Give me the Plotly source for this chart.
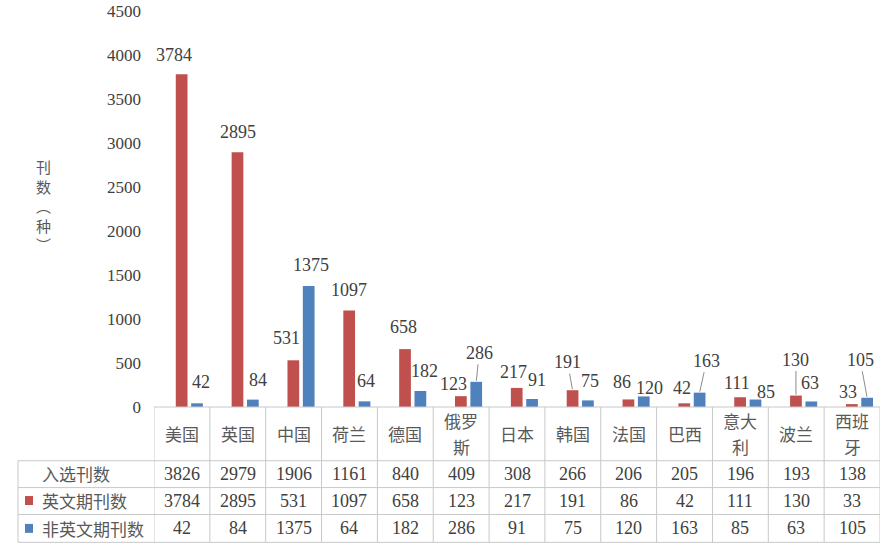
import plotly.graph_objects as go

# data
countries = ['美国', '英国', '中国', '荷兰', '德国', '俄罗斯', '日本',
             '韩国', '法国', '巴西', '意大利', '波兰', '西班牙']
header_labels = ['美国', '英国', '中国', '荷兰', '德国', '俄罗|斯', '日本',
                 '韩国', '法国', '巴西', '意大|利', '波兰', '西班|牙']
total = [3826, 2979, 1906, 1161, 840, 409, 308, 266, 206, 205, 196, 193, 138]
english = [3784, 2895, 531, 1097, 658, 123, 217, 191, 86, 42, 111, 130, 33]
non_english = [42, 84, 1375, 64, 182, 286, 91, 75, 120, 163, 85, 63, 105]
row_names = ['入选刊数', '英文期刊数', '非英文期刊数']
y_ticks = list(range(0, 5000, 500))

RED = '#C0504D'
BLUE = '#4F81BD'
NUM_FONT = '"Liberation Serif", "Times New Roman", serif'
CJK_FONT = '"Noto Sans CJK SC", sans-serif'
TXT = '#404040'
CJK_TXT = '#595959'
GRID = '#C8C8C8'

W, H = 882, 555
L, R, T, B = 154, 2, 9, 148
PW, PH = W - L - R, H - T - B


def px(x):
    return (x - L) / PW


def py(y):
    return (H - B - y) / PH


# label offsets in pixels (dx, dy) from bar top; leader=1 draws a line
red_lbl = [(-8, -19, 0), (1, -20, 0), (-7, -22, 0), (0, -21, 0), (-2, -22, 0),
           (-7, -12, 0), (-3, -16, 0), (-5, -28, 1), (-6, -17, 0), (-2, -15, 0),
           (-3, -14, 0), (0, -36, 1), (-4, -12, 0)]
blue_lbl = [(4, -21, 0), (5, -20, 0), (2, -21, 0), (1, -20, 0), (4, -20, 0),
            (3, -29, 1), (5, -19, 0), (2, -19, 0), (6, -8, 0), (7, -32, 1),
            (11, -8, 0), (-1, -18, 0), (-7, -38, 1)]

idx = list(range(len(countries)))
RED_OFF, BLUE_OFF, BW = -0.11, 0.165, 0.21

fig = go.Figure()
fig.add_trace(go.Bar(x=idx, y=english, width=BW, offset=RED_OFF,
                     marker=dict(color=RED, line=dict(width=0)),
                     name='英文期刊数', hoverinfo='y'))
fig.add_trace(go.Bar(x=idx, y=non_english, width=BW, offset=BLUE_OFF,
                     marker=dict(color=BLUE, line=dict(width=0)),
                     name='非英文期刊数', hoverinfo='y'))

ann = []
for vals, lbls, off in [(english, red_lbl, RED_OFF), (non_english, blue_lbl, BLUE_OFF)]:
    for i, v in enumerate(vals):
        dx, dy, leader = lbls[i]
        base = dict(x=i + off + BW / 2, y=v, text=str(v), xanchor='center', yanchor='middle',
                    font=dict(family=NUM_FONT, size=18, color=TXT))
        if leader:
            ann.append(dict(base, showarrow=True, ax=dx, ay=dy, arrowhead=0,
                            arrowwidth=1, arrowcolor='#8c8c8c', standoff=1))
        else:
            ann.append(dict(base, showarrow=False, xshift=dx, yshift=-dy))

# table: header row (wrapped names get one annotation per line)
for i, lab in enumerate(header_labels):
    parts = lab.split('|')
    ys = [434] if len(parts) == 1 else [421, 447]
    for part, yy in zip(parts, ys):
        ann.append(dict(x=i, y=py(yy), xref='x', yref='paper', text=part,
                        xanchor='center', yanchor='middle', showarrow=False,
                        font=dict(family=CJK_FONT, size=17, color=CJK_TXT)))

row_y = [474, 501, 529]
for r, vals in enumerate([total, english, non_english]):
    ann.append(dict(x=px(40), y=py(row_y[r]), xref='paper', yref='paper',
                    text=row_names[r], xanchor='left', yanchor='middle', showarrow=False,
                    font=dict(family=CJK_FONT, size=17, color=CJK_TXT)))
    for i, v in enumerate(vals):
        ann.append(dict(x=i, y=py(row_y[r]), xref='x', yref='paper', text=str(v),
                        xanchor='center', yanchor='middle', showarrow=False,
                        font=dict(family=NUM_FONT, size=18, color=TXT)))

# y axis title, stacked vertically
ann.append(dict(x=px(43), y=py(204), xref='paper', yref='paper',
                text='刊<br>数<br>︵<br>种<br>︶', showarrow=False,
                xanchor='center', yanchor='middle',
                font=dict(family=CJK_FONT, size=15, color=CJK_TXT)))

shapes = []
line = dict(color=GRID, width=1)
# horizontal table lines
shapes.append(dict(type='line', xref='paper', yref='paper', x0=0, x1=px(880),
                   y0=py(407), y1=py(407), line=line))
for yy in [461, 488, 515, 543]:
    shapes.append(dict(type='line', xref='paper', yref='paper', x0=px(18), x1=px(880),
                       y0=py(yy), y1=py(yy), line=line))
# vertical column lines
for i in range(len(countries) + 1):
    shapes.append(dict(type='line', xref='x', yref='paper', x0=i - 0.5, x1=i - 0.5,
                       y0=py(407), y1=py(543), line=line))
shapes.append(dict(type='line', xref='paper', yref='paper', x0=px(18), x1=px(18),
                   y0=py(461), y1=py(543), line=line))
# legend keys in the table
for r, col in [(1, RED), (2, BLUE)]:
    shapes.append(dict(type='rect', xref='paper', yref='paper',
                       x0=px(25), x1=px(33), y0=py(row_y[r] + 4.5), y1=py(row_y[r] - 4.5),
                       fillcolor=col, line=dict(width=0)))

fig.update_layout(
    width=W, height=H,
    margin=dict(l=L, r=R, t=T, b=B),
    paper_bgcolor='white', plot_bgcolor='white',
    barmode='overlay', showlegend=False,
    xaxis=dict(range=[-0.5, len(countries) - 0.5], showticklabels=False,
               showgrid=False, zeroline=False, showline=False, fixedrange=True),
    yaxis=dict(range=[0, 4502], tickvals=y_ticks, showgrid=False, zeroline=False,
               showline=False, ticks='', ticklabelstandoff=12,
               tickfont=dict(family=NUM_FONT, size=17, color=TXT)),
    annotations=ann,
    shapes=shapes,
)

fig.write_html("out.html", config={'displayModeBar': False},
               post_script="document.body.style.margin='0';")
